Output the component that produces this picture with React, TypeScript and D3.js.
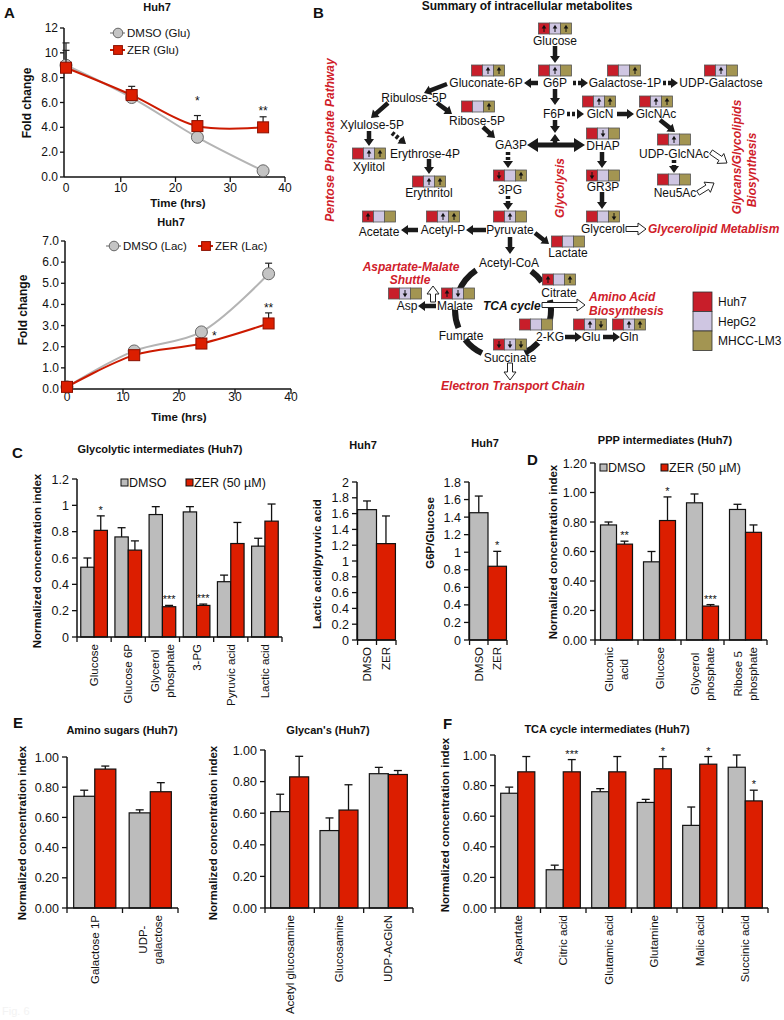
import { useEffect, useRef } from "react";
import * as d3 from "d3";

// ---------- panel A: fold change over time (Huh7) ----------
const hours = [0, 12, 24, 36];
const gluDmso = [9.0, 6.4, 3.2, 0.5];
const gluDmsoErr = [1.8, 0.15, 0.1, 0.1];
const gluZer = [8.8, 6.6, 4.1, 4.0];
const gluZerErr = [1.4, 0.7, 0.85, 0.85];
const lacDmso = [0.1, 1.8, 2.7, 5.45];
const lacDmsoErr = [0.05, 0.05, 0.2, 0.5];
const lacZer = [0.1, 1.6, 2.15, 3.1];
const lacZerErr = [0.05, 0.05, 0.1, 0.5];

// ---------- panel B: metabolite changes per cell line ----------
const cellLines = ["Huh7", "HepG2", "MHCC-LM3"];
// Huh7 / HepG2 / MHCC-LM3 : u = up, d = down, - = no change
const changes: Record<string, string> = {
  Glucose: "uuu",
  G6P: "-u-",
  "Galactose-1P": "--u",
  "UDP-Galactose": "-u-",
  "Gluconate-6P": "-uu",
  "Ribose-5P": "--u",
  Xylitol: "-uu",
  Erythritol: "-uu",
  GlcN: "-uu",
  GlcNAc: "-uu",
  DHAP: "-d-",
  "UDP-GlcNAc": "-u-",
  GR3P: "d--",
  Neu5Ac: "---",
  "3PG": "d-u",
  Pyruvate: "-u-",
  "Acetyl-P": "-uu",
  Acetate: "u--",
  Glycerol: "--d",
  Lactate: "---",
  Citrate: "u-u",
  Malate: "ud-",
  Asp: "-d-",
  "2-KG": "---",
  Succinate: "ddd",
  Glu: "-ud",
  Gln: "-uu",
};

// ---------- panel C ----------
const glycoCats = ["Glucose", "Glucose 6P", "Glycerol\nphosphate", "3-PG", "Pyruvic acid", "Lactic acid"];
const glycoDmso = [0.53, 0.76, 0.93, 0.95, 0.42, 0.69];
const glycoDmsoErr = [0.07, 0.07, 0.06, 0.04, 0.05, 0.06];
const glycoZer = [0.81, 0.66, 0.23, 0.24, 0.71, 0.88];
const glycoZerErr = [0.11, 0.07, 0.01, 0.01, 0.16, 0.13];
const glycoSig = ["*", "", "***", "***", "", ""];

const ratioCats = ["DMSO", "ZER"];
const lacPyrRatio = [1.65, 1.22];
const lacPyrErr = [0.11, 0.35];
const g6pGlcRatio = [1.45, 0.84];
const g6pGlcErr = [0.19, 0.17];
const g6pGlcSig = ["", "*"];

// ---------- panel D ----------
const pppCats = ["Gluconic\nacid", "Glucose", "Glycerol\nphosphate", "Ribose 5\nphosphate"];
const pppDmso = [0.78, 0.53, 0.93, 0.885];
const pppDmsoErr = [0.02, 0.07, 0.06, 0.035];
const pppZer = [0.65, 0.81, 0.23, 0.73];
const pppZerErr = [0.02, 0.16, 0.01, 0.05];
const pppSig = ["**", "*", "***", ""];

// ---------- panel E ----------
const aminoCats = ["Galactose 1P", "UDP-\ngalactose"];
const aminoDmso = [0.74, 0.63];
const aminoDmsoErr = [0.04, 0.02];
const aminoZer = [0.92, 0.77];
const aminoZerErr = [0.02, 0.06];

const glycanCats = ["Acetyl glucosamine", "Glucosamine", "UDP-AcGlcN"];
const glycanDmso = [0.61, 0.49, 0.85];
const glycanDmsoErr = [0.11, 0.08, 0.04];
const glycanZer = [0.83, 0.62, 0.845];
const glycanZerErr = [0.13, 0.16, 0.025];

// ---------- panel F ----------
const tcaCats = ["Aspartate", "Citric acid", "Glutamic acid", "Glutamine", "Malic acid", "Succinic acid"];
const tcaDmso = [0.75, 0.25, 0.76, 0.69, 0.54, 0.92];
const tcaDmsoErr = [0.04, 0.03, 0.02, 0.02, 0.12, 0.08];
const tcaZer = [0.89, 0.89, 0.89, 0.91, 0.94, 0.7];
const tcaZerErr = [0.1, 0.08, 0.1, 0.08, 0.05, 0.07];
const tcaSig = ["", "***", "", "*", "*", "*"];

const W = 784;
const H = 1020;
const SANS = "'Liberation Sans', Arial, Helvetica, sans-serif";
const GREY = "#bcbcbc";
const RED = "#dc1e00";
const PATH_RED = "#d0202a";
const CELL_COLORS = ["#c81e2a", "#cfc6e2", "#a39552"];

// pathway layout: [name, label x, label y, box centre x, box top y]
const pathwayBoxes: [string, number, number, number, number][] = [
  ["Glucose", 555, 41, 555, 23],
  ["G6P", 555, 83, 555, 65],
  ["Galactose-1P", 625, 83, 624, 65],
  ["UDP-Galactose", 721, 83, 721, 65],
  ["Gluconate-6P", 486, 83, 488, 65],
  ["Ribose-5P", 477, 121, 478, 101],
  ["Xylitol", 369, 167, 369, 148],
  ["Erythritol", 429, 193, 429, 176],
  ["GlcN", 600, 114, 599, 96],
  ["GlcNAc", 656, 114, 656, 96],
  ["DHAP", 603, 146, 603, 128],
  ["UDP-GlcNAc", 674, 154, 674, 134],
  ["GR3P", 603, 187, 603, 170],
  ["Neu5Ac", 675, 193, 674, 174],
  ["3PG", 510, 190, 510, 170],
  ["Pyruvate", 510, 230, 510, 211],
  ["Acetyl-P", 443, 230, 443, 211],
  ["Acetate", 379, 232, 379, 211],
  ["Glycerol", 603, 229, 603, 211],
  ["Lactate", 568, 253, 568, 236],
  ["Citrate", 559, 293, 559, 274],
  ["Malate", 455, 306, 458, 288],
  ["Asp", 407, 306, 405, 288],
  ["2-KG", 550, 337, 536, 319],
  ["Succinate", 510, 358, 510, 339],
  ["Glu", 591, 337, 590, 319],
  ["Gln", 629, 337, 629, 319],
];
const pathwayLabels: [string, number, number][] = [
  ["Ribulose-5P", 414, 98],
  ["Xylulose-5P", 372, 125],
  ["Erythrose-4P", 425, 154],
  ["F6P", 554, 114],
  ["GA3P", 511, 145],
  ["Acetyl-CoA", 509, 263],
  ["Fumrate", 461, 336],
];
// s = solid, d = dashed, o = open arrow
const pathwayArrows: [string, number, number, number, number][] = [
  ["s", 555, 46, 555, 63],
  ["s", 538, 83, 524, 83],
  ["d", 573, 83, 588, 83],
  ["d", 663, 83, 678, 83],
  ["s", 555, 89, 555, 105],
  ["d", 567, 114, 584, 114],
  ["s", 617, 114, 634, 114],
  ["s", 660, 120, 675, 132],
  ["d", 674, 160, 674, 173],
  ["o", 711, 152, 727, 163],
  ["o", 698, 193, 714, 183],
  ["s", 555, 120, 555, 133],
  ["s", 555, 144, 555, 134],
  ["s", 602, 152, 602, 168],
  ["s", 602, 192, 602, 209],
  ["o", 626, 229, 646, 229],
  ["s", 447, 84, 424, 93],
  ["s", 388, 103, 371, 118],
  ["s", 437, 103, 452, 114],
  ["s", 369, 131, 369, 146],
  ["d", 392, 133, 406, 144],
  ["s", 429, 159, 429, 174],
  ["s", 483, 127, 495, 138],
  ["d", 508, 152, 508, 168],
  ["d", 508, 196, 508, 210],
  ["s", 486, 230, 466, 230],
  ["s", 418, 230, 401, 230],
  ["s", 535, 233, 549, 244],
  ["s", 510, 237, 510, 254],
  ["s", 436, 306, 418, 306],
  ["o", 433, 302, 433, 286],
  ["o", 542, 305, 585, 305],
  ["s", 565, 337, 582, 337],
  ["s", 603, 337, 620, 337],
  ["o", 510, 363, 510, 380],
];
// TCA cycle arc segments, degrees clockwise from top
const tcaArcs: [number, number][] = [
  [292, 326],
  [36, 54],
  [78, 102],
  [133, 153],
  [206, 232],
  [248, 270],
];

function txt(g: any, x: number, y: number, s: string, size: number, o: any = {}) {
  return g
    .append("text")
    .attr("x", x)
    .attr("y", y)
    .attr("font-family", SANS)
    .attr("font-size", size)
    .attr("font-weight", o.bold ? "bold" : "normal")
    .attr("font-style", o.italic ? "italic" : "normal")
    .attr("fill", o.fill || "#111")
    .attr("text-anchor", o.anchor || "middle")
    .text(s);
}

function vtxt(g: any, x: number, y: number, s: string, size: number, o: any = {}) {
  return g
    .append("text")
    .attr("transform", `translate(${x},${y}) rotate(-90)`)
    .attr("dy", "0.35em")
    .attr("font-family", SANS)
    .attr("font-size", size)
    .attr("font-weight", o.bold ? "bold" : "normal")
    .attr("font-style", o.italic ? "italic" : "normal")
    .attr("fill", o.fill || "#111")
    .attr("text-anchor", o.anchor || "middle")
    .text(s);
}

function arrowPts(x1: number, y1: number, x2: number, y2: number, shaft: number, hw: number, hl: number) {
  const len = Math.hypot(x2 - x1, y2 - y1);
  const ux = (x2 - x1) / len;
  const uy = (y2 - y1) / len;
  const px = -uy;
  const py = ux;
  const bx = x2 - ux * hl;
  const by = y2 - uy * hl;
  const pts = [
    [x1 + (px * shaft) / 2, y1 + (py * shaft) / 2],
    [bx + (px * shaft) / 2, by + (py * shaft) / 2],
    [bx + (px * hw) / 2, by + (py * hw) / 2],
    [x2, y2],
    [bx - (px * hw) / 2, by - (py * hw) / 2],
    [bx - (px * shaft) / 2, by - (py * shaft) / 2],
    [x1 - (px * shaft) / 2, y1 - (py * shaft) / 2],
  ];
  return "M" + pts.map((p) => p.map((v) => v.toFixed(2)).join(",")).join("L") + "Z";
}

function drawArrow(g: any, kind: string, x1: number, y1: number, x2: number, y2: number) {
  if (kind === "o") {
    g.append("path")
      .attr("d", arrowPts(x1, y1, x2, y2, 5, 12, 8))
      .attr("fill", "#fff")
      .attr("stroke", "#222")
      .attr("stroke-width", 1);
  } else if (kind === "d") {
    const len = Math.hypot(x2 - x1, y2 - y1);
    const ux = (x2 - x1) / len;
    const uy = (y2 - y1) / len;
    g.append("line")
      .attr("x1", x1)
      .attr("y1", y1)
      .attr("x2", x2 - ux * 6)
      .attr("y2", y2 - uy * 6)
      .attr("stroke", "#1a1a1a")
      .attr("stroke-width", 4.5)
      .attr("stroke-dasharray", "3 2");
    g.append("path")
      .attr("d", arrowPts(x2 - ux * 7, y2 - uy * 7, x2, y2, 0.1, 10, 7))
      .attr("fill", "#1a1a1a");
  } else {
    g.append("path").attr("d", arrowPts(x1, y1, x2, y2, 4.5, 10, 7)).attr("fill", "#1a1a1a");
  }
}

function drawChangeBox(g: any, cx: number, top: number, code: string) {
  const cw = 11;
  const x0 = cx - (cw * 3) / 2;
  cellLines.forEach((_, i) => {
    const x = x0 + i * cw;
    g.append("rect")
      .attr("x", x)
      .attr("y", top)
      .attr("width", cw)
      .attr("height", 11)
      .attr("fill", CELL_COLORS[i])
      .attr("stroke", "#555")
      .attr("stroke-width", 0.8);
    const c = code[i];
    if (c === "u" || c === "d") {
      const mx = x + cw / 2;
      const my = top + 5.5;
      const s = c === "u" ? -1 : 1;
      g.append("line")
        .attr("x1", mx)
        .attr("x2", mx)
        .attr("y1", my - s * 3.5)
        .attr("y2", my + s * 0.5)
        .attr("stroke", "#111")
        .attr("stroke-width", 1);
      g.append("path")
        .attr("d", `M${mx - 2.3},${my} L${mx + 2.3},${my} L${mx},${my + s * 3.8} Z`)
        .attr("fill", "#111");
    }
  });
}

function drawPathway(svg: any) {
  const g = svg.append("g");
  txt(g, 313, 18, "B", 15, { bold: true, anchor: "start" });
  txt(g, 527, 10, "Summary of intracellular metabolites", 12, { bold: true });

  // TCA cycle ring
  const arc = d3.arc().innerRadius(45).outerRadius(51);
  tcaArcs.forEach(([a0, a1]) => {
    g.append("path")
      .attr("transform", "translate(503,310)")
      .attr("d", arc({ startAngle: (a0 * Math.PI) / 180, endAngle: (a1 * Math.PI) / 180 } as any))
      .attr("fill", "#1a1a1a");
  });

  // double arrow GA3P <-> DHAP
  const dx0 = 527;
  const dx1 = 585;
  const dy = 145;
  g.append("path")
    .attr(
      "d",
      `M${dx0},${dy} L${dx0 + 11},${dy - 7} L${dx0 + 11},${dy - 2.5} L${dx1 - 11},${dy - 2.5} L${dx1 - 11},${dy - 7} L${dx1},${dy} L${dx1 - 11},${dy + 7} L${dx1 - 11},${dy + 2.5} L${dx0 + 11},${dy + 2.5} L${dx0 + 11},${dy + 7} Z`
    )
    .attr("fill", "#1a1a1a");

  pathwayArrows.forEach(([k, x1, y1, x2, y2]) => drawArrow(g, k, x1, y1, x2, y2));

  pathwayBoxes.forEach(([name, lx, ly, bx, by]) => {
    drawChangeBox(g, bx, by, changes[name]);
    txt(g, lx, ly, name, 12).attr("dy", "0.35em");
  });
  pathwayLabels.forEach(([name, lx, ly]) => txt(g, lx, ly, name, 12).attr("dy", "0.35em"));

  txt(g, 483, 306, "TCA cycle", 12, { bold: true, italic: true, anchor: "start" }).attr("dy", "0.35em");

  const red = { bold: true, italic: true, fill: PATH_RED };
  vtxt(g, 330, 140, "Pentose Phosphate Pathway", 12, red);
  vtxt(g, 560, 188, "Glycolysis", 12, red);
  vtxt(g, 737, 157, "Glycans/Glycolipids", 12, red);
  vtxt(g, 752, 170, "Biosynthesis", 12, red);
  txt(g, 648, 229, "Glycerolipid Metablism", 12, { ...red, anchor: "start" }).attr("dy", "0.35em");
  txt(g, 411, 267, "Aspartate-Malate", 12, red).attr("dy", "0.35em");
  txt(g, 410, 280, "Shuttle", 12, red).attr("dy", "0.35em");
  txt(g, 589, 297, "Amino Acid", 12, { ...red, anchor: "start" }).attr("dy", "0.35em");
  txt(g, 589, 311, "Biosynthesis", 12, { ...red, anchor: "start" }).attr("dy", "0.35em");
  txt(g, 513, 386, "Electron Transport Chain", 12, red).attr("dy", "0.35em");

  // legend
  cellLines.forEach((name, i) => {
    g.append("rect")
      .attr("x", 693)
      .attr("y", 292 + i * 19.5)
      .attr("width", 19)
      .attr("height", 19.5)
      .attr("fill", CELL_COLORS[i])
      .attr("stroke", "#333")
      .attr("stroke-width", 0.8);
    txt(g, 718, 302 + i * 19.5, name, 12, { anchor: "start" }).attr("dy", "0.35em");
  });
}

function marker(g: any, kind: string, cx: number, cy: number, k: number) {
  if (kind === "circle") {
    g.append("circle").attr("cx", cx).attr("cy", cy).attr("r", 6 * k).attr("fill", "#c4c4c4").attr("stroke", "#666").attr("stroke-width", 1);
  } else {
    const s = 11 * k;
    g.append("rect").attr("x", cx - s / 2).attr("y", cy - s / 2).attr("width", s).attr("height", s).attr("fill", RED).attr("stroke", "#8a1000").attr("stroke-width", 1);
  }
}

function drawLineChart(svg: any, o: any) {
  const g = svg.append("g");
  const x = d3.scaleLinear().domain([0, 40]).range([o.x0, o.x1]);
  const y = d3.scaleLinear().domain([0, o.yMax]).range([o.yBot, o.yTop]);
  const ax = o.x0 - 2;

  if (o.letter) txt(g, 4, 18, o.letter, 15, { bold: true, anchor: "start" });
  txt(g, o.titleX, o.titleY, "Huh7", 11, { bold: true });

  g.append("line").attr("x1", ax).attr("x2", ax).attr("y1", o.yBot).attr("y2", o.yTop).attr("stroke", "#111").attr("stroke-width", 1.5);
  o.yTicks.forEach((v: number) => {
    g.append("line").attr("x1", ax - 4).attr("x2", ax).attr("y1", y(v)).attr("y2", y(v)).attr("stroke", "#111").attr("stroke-width", 1.3);
    txt(g, ax - 6, y(v) + 4, o.yFmt(v), 12, { anchor: "end" });
  });
  g.append("line").attr("x1", ax).attr("x2", x(40)).attr("y1", o.yBot).attr("y2", o.yBot).attr("stroke", "#111").attr("stroke-width", 1.5);
  [0, 10, 20, 30, 40].forEach((t) => {
    if (t > 0)
      g.append("line").attr("x1", x(t)).attr("x2", x(t)).attr("y1", o.yBot).attr("y2", o.yBot + 5).attr("stroke", "#111").attr("stroke-width", 1.3);
    txt(g, x(t), o.yBot + o.xLabelOff, String(t), 12);
  });
  txt(g, o.xTitleX, o.xTitleY, "Time (hrs)", 11.5, { bold: true });
  vtxt(g, o.yTitleX, o.yTitleY, "Fold change", 12, { bold: true });

  const line = d3
    .line<number>()
    .x((_, i) => x(hours[i]))
    .y((v) => y(v))
    .curve(d3.curveCatmullRom.alpha(0.5));

  o.series.forEach((s: any) => {
    g.append("path").attr("d", line(s.values)).attr("fill", "none").attr("stroke", s.line).attr("stroke-width", 2);
  });
  o.series.forEach((s: any) => {
    s.values.forEach((v: number, i: number) => {
      const cx = x(hours[i]);
      const top = y(v + s.err[i]);
      g.append("line").attr("x1", cx).attr("x2", cx).attr("y1", y(v)).attr("y2", top).attr("stroke", "#222").attr("stroke-width", 1.2);
      g.append("line").attr("x1", cx - 3.5).attr("x2", cx + 3.5).attr("y1", top).attr("y2", top).attr("stroke", "#222").attr("stroke-width", 1.2);
    });
    s.values.forEach((v: number, i: number) => marker(g, s.marker, x(hours[i]), y(v), 1));
  });

  o.legend.forEach((l: any, i: number) => {
    const s = o.series[i];
    g.append("line").attr("x1", l.x).attr("x2", l.x + 15).attr("y1", l.y).attr("y2", l.y).attr("stroke", s.line).attr("stroke-width", 2);
    marker(g, s.marker, l.x + 8, l.y, 0.8);
    txt(g, l.x + 17, l.y + 4, l.label, 11.5, { anchor: "start" });
  });

  o.stars.forEach((st: any) => txt(g, x(st.t), y(st.v) + 5, st.s, 12));
}

function rotatedLabel(g: any, cx: number, yTop: number, label: string, size: number) {
  const lines = label.split("\n");
  const lineH = 14.5;
  const nodes = lines.map((line, j) =>
    g
      .append("text")
      .attr("transform", `translate(${cx + (j - (lines.length - 1) / 2) * lineH},${yTop}) rotate(-90)`)
      .attr("text-anchor", "end")
      .attr("dy", "0.35em")
      .attr("font-family", SANS)
      .attr("font-size", size)
      .attr("fill", "#111")
      .text(line)
  );
  const lens = nodes.map((n: any) => (n.node() as SVGTextElement).getComputedTextLength());
  const max = Math.max(...lens);
  nodes.forEach((n: any, j: number) => n.attr("x", -(max - lens[j]) / 2));
}

function drawBarChart(svg: any, o: any) {
  const g = svg.append("g");
  const y = d3.scaleLinear().domain([0, o.max]).range([o.bottom, o.top]);
  const x = d3
    .scaleBand<string>()
    .domain(o.cats.map((_: string, i: number) => String(i)))
    .range([o.left, o.right])
    .paddingInner(o.pad)
    .paddingOuter(o.outer ?? o.pad / 2);
  const sub = d3
    .scaleBand<string>()
    .domain(o.series.map((_: any, i: number) => String(i)))
    .range([0, x.bandwidth()]);

  if (o.letter) txt(g, o.letter[1], o.letter[2], o.letter[0], 15, { bold: true, anchor: "start" });
  txt(g, o.titleX, o.titleY, o.title, 11, { bold: true });
  vtxt(g, o.yLabelX, o.yLabelY, o.yLabel, 11.5, { bold: true });

  // bars
  o.series.forEach((s: any, j: number) => {
    s.values.forEach((v: number, i: number) => {
      const bx = (x(String(i)) as number) + (sub(String(j)) as number);
      const fill = Array.isArray(s.color) ? s.color[i] : s.color;
      g.append("rect")
        .attr("x", bx)
        .attr("y", y(v))
        .attr("width", sub.bandwidth())
        .attr("height", o.bottom - y(v))
        .attr("fill", fill)
        .attr("stroke", "#111")
        .attr("stroke-width", 1.2);
      const cx = bx + sub.bandwidth() / 2;
      const top = y(v + s.err[i]);
      g.append("line").attr("x1", cx).attr("x2", cx).attr("y1", y(v)).attr("y2", top).attr("stroke", "#111").attr("stroke-width", 1.3);
      g.append("line").attr("x1", cx - 4).attr("x2", cx + 4).attr("y1", top).attr("y2", top).attr("stroke", "#111").attr("stroke-width", 1.3);
      if (s.sig && s.sig[i]) txt(g, cx, top - 2, s.sig[i], 11);
    });
  });

  // axes
  g.append("line").attr("x1", o.left).attr("x2", o.left).attr("y1", o.bottom).attr("y2", o.top).attr("stroke", "#111").attr("stroke-width", 1.5);
  d3.range(0, o.max + o.step / 2, o.step).forEach((v: number) => {
    g.append("line").attr("x1", o.left - 5).attr("x2", o.left).attr("y1", y(v)).attr("y2", y(v)).attr("stroke", "#111").attr("stroke-width", 1.3);
    txt(g, o.left - 8, y(v) + 4.5, o.fmt(v), 12.5, { anchor: "end" });
  });
  g.append("line").attr("x1", o.left).attr("x2", o.right).attr("y1", o.bottom).attr("y2", o.bottom).attr("stroke", "#111").attr("stroke-width", 1.5);
  const stepW = x.step();
  const first = (x("0") as number) - (stepW * o.pad) / 2;
  o.cats.forEach((c: string, i: number) => {
    const b0 = first + i * stepW;
    g.append("line").attr("x1", b0).attr("x2", b0).attr("y1", o.bottom).attr("y2", o.bottom + 5).attr("stroke", "#111").attr("stroke-width", 1.3);
    rotatedLabel(g, (x(String(i)) as number) + x.bandwidth() / 2, o.bottom + 7, c, 11.5);
  });
  g.append("line").attr("x1", o.right).attr("x2", o.right).attr("y1", o.bottom).attr("y2", o.bottom + 5).attr("stroke", "#111").attr("stroke-width", 1.3);

  if (o.legend) {
    o.legend.forEach((l: any) => {
      g.append("rect").attr("x", l.x).attr("y", o.legendY - 7).attr("width", 7).attr("height", 7).attr("fill", l.color).attr("stroke", "#111").attr("stroke-width", 1);
      txt(g, l.x + 8, o.legendY + 1, l.label, 12.5, { anchor: "start" });
    });
  }
}

const short = (v: number) => String(+v.toFixed(1));
const two = (v: number) => v.toFixed(2);

export default function App() {
  const svgRef = useRef<SVGSVGElement | null>(null);

  useEffect(() => {
    if (!svgRef.current) return;
    const svg = d3.select(svgRef.current);
    svg.selectAll("*").remove();
    svg.append("rect").attr("width", W).attr("height", H).attr("fill", "#fff");

    const dmsoLine = { line: "#b4b4b4", marker: "circle" };
    const zerLine = { line: "#cc1a00", marker: "square" };

    drawLineChart(svg, {
      letter: "A",
      x0: 66,
      x1: 285,
      yBot: 177,
      yTop: 28,
      yMax: 12,
      yTicks: d3.range(0, 13, 2),
      yFmt: (v: number) => (v >= 10 ? String(v) : v.toFixed(1)),
      titleX: 157,
      titleY: 11,
      xLabelOff: 15,
      xTitleX: 178,
      xTitleY: 207,
      yTitleX: 27,
      yTitleY: 103,
      series: [
        { ...dmsoLine, values: gluDmso, err: gluDmsoErr },
        { ...zerLine, values: gluZer, err: gluZerErr },
      ],
      legend: [
        { x: 110, y: 33, label: "DMSO (Glu)" },
        { x: 110, y: 50, label: "ZER (Glu)" },
      ],
      stars: [
        { t: 24, v: 6.2, s: "*" },
        { t: 36, v: 5.4, s: "**" },
      ],
    });

    drawLineChart(svg, {
      x0: 67,
      x1: 291,
      yBot: 389,
      yTop: 241,
      yMax: 7,
      yTicks: d3.range(0, 8, 1),
      yFmt: (v: number) => v.toFixed(1),
      titleX: 171,
      titleY: 226,
      xLabelOff: 12,
      xTitleX: 179,
      xTitleY: 421,
      yTitleX: 23,
      yTitleY: 310,
      series: [
        { ...dmsoLine, values: lacDmso, err: lacDmsoErr },
        { ...zerLine, values: lacZer, err: lacZerErr },
      ],
      legend: [
        { x: 106, y: 246, label: "DMSO (Lac)" },
        { x: 198, y: 246, label: "ZER (Lac)" },
      ],
      stars: [
        { t: 26.3, v: 2.55, s: "*" },
        { t: 36, v: 3.9, s: "**" },
      ],
    });

    drawPathway(svg);

    const legendItems = (x1: number, x2: number) => [
      { x: x1, label: "DMSO", color: GREY },
      { x: x2, label: "ZER (50 µM)", color: RED },
    ];

    drawBarChart(svg, {
      letter: ["C", 12, 458],
      left: 77,
      right: 282,
      top: 479,
      bottom: 637,
      max: 1.2,
      step: 0.2,
      fmt: short,
      pad: 0.22,
      cats: glycoCats,
      series: [
        { values: glycoDmso, err: glycoDmsoErr, color: GREY },
        { values: glycoZer, err: glycoZerErr, color: RED, sig: glycoSig },
      ],
      title: "Glycolytic intermediates (Huh7)",
      titleX: 160,
      titleY: 453,
      yLabel: "Normalized concentration index",
      yLabelX: 37,
      yLabelY: 561,
      legend: legendItems(121, 186),
      legendY: 486,
    });

    drawBarChart(svg, {
      left: 357,
      right: 396,
      top: 482,
      bottom: 640,
      max: 2,
      step: 0.2,
      fmt: short,
      pad: 0,
      outer: 0.03,
      cats: ratioCats,
      series: [{ values: lacPyrRatio, err: lacPyrErr, color: [GREY, RED] }],
      title: "Huh7",
      titleX: 363,
      titleY: 449,
      yLabel: "Lactic acid/pyruvic acid",
      yLabelX: 317,
      yLabelY: 564,
    });

    drawBarChart(svg, {
      left: 469,
      right: 507,
      top: 482,
      bottom: 640,
      max: 1.8,
      step: 0.2,
      fmt: short,
      pad: 0,
      outer: 0.03,
      cats: ratioCats,
      series: [{ values: g6pGlcRatio, err: g6pGlcErr, color: [GREY, RED], sig: g6pGlcSig }],
      title: "Huh7",
      titleX: 485,
      titleY: 447,
      yLabel: "G6P/Glucose",
      yLabelX: 430,
      yLabelY: 533,
    });

    drawBarChart(svg, {
      letter: ["D", 527, 465],
      left: 595,
      right: 767,
      top: 463,
      bottom: 640,
      max: 1.2,
      step: 0.2,
      fmt: two,
      pad: 0.256,
      cats: pppCats,
      series: [
        { values: pppDmso, err: pppDmsoErr, color: GREY },
        { values: pppZer, err: pppZerErr, color: RED, sig: pppSig },
      ],
      title: "PPP intermediates  (Huh7)",
      titleX: 665,
      titleY: 444,
      yLabel: "Normalized concentration index",
      yLabelX: 553,
      yLabelY: 552,
      legend: legendItems(600, 661),
      legendY: 471,
    });

    drawBarChart(svg, {
      letter: ["E", 13, 728],
      left: 67,
      right: 178,
      top: 757,
      bottom: 908,
      max: 1,
      step: 0.2,
      fmt: two,
      pad: 0.24,
      cats: aminoCats,
      series: [
        { values: aminoDmso, err: aminoDmsoErr, color: GREY },
        { values: aminoZer, err: aminoZerErr, color: RED },
      ],
      title: "Amino sugars (Huh7)",
      titleX: 122,
      titleY: 734,
      yLabel: "Normalized concentration index",
      yLabelX: 22,
      yLabelY: 833,
    });

    drawBarChart(svg, {
      left: 265,
      right: 413,
      top: 750,
      bottom: 908,
      max: 1,
      step: 0.2,
      fmt: two,
      pad: 0.23,
      cats: glycanCats,
      series: [
        { values: glycanDmso, err: glycanDmsoErr, color: GREY },
        { values: glycanZer, err: glycanZerErr, color: RED },
      ],
      title: "Glycan's (Huh7)",
      titleX: 328,
      titleY: 734,
      yLabel: "Normalized concentration index",
      yLabelX: 213,
      yLabelY: 833,
    });

    drawBarChart(svg, {
      letter: ["F", 443, 729],
      left: 495,
      right: 768,
      top: 755,
      bottom: 908,
      max: 1,
      step: 0.2,
      fmt: two,
      pad: 0.25,
      cats: tcaCats,
      series: [
        { values: tcaDmso, err: tcaDmsoErr, color: GREY },
        { values: tcaZer, err: tcaZerErr, color: RED, sig: tcaSig },
      ],
      title: "TCA cycle intermediates (Huh7)",
      titleX: 607,
      titleY: 733,
      yLabel: "Normalized concentration index",
      yLabelX: 445,
      yLabelY: 825,
    });

    txt(svg, 2, 1015, "Fig. 6", 11, { anchor: "start", fill: "#f3f3f3" });
  }, []);

  return (
    <svg
      ref={svgRef}
      width={W}
      height={H}
      style={{ position: "absolute", left: 0, top: 0, display: "block" }}
    />
  );
}
